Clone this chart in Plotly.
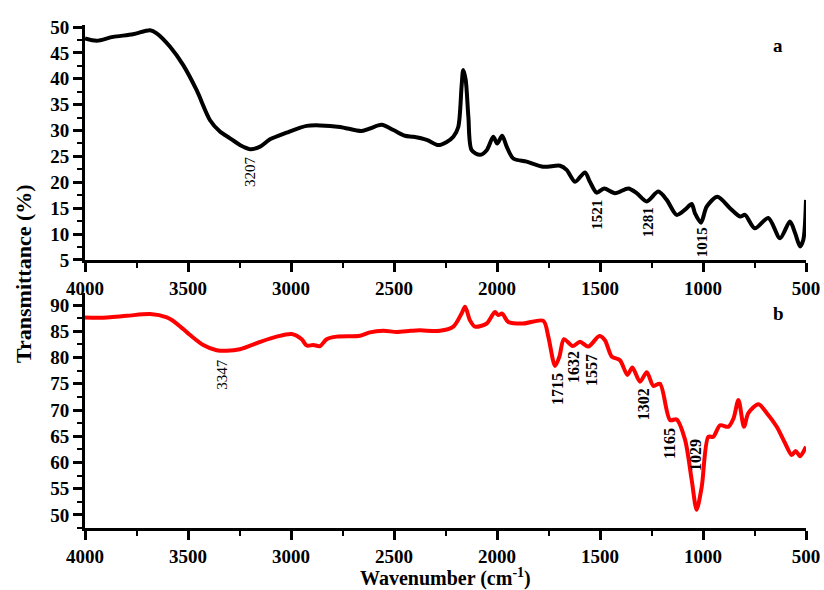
import plotly.graph_objects as go
from plotly.subplots import make_subplots

# ---- data ----
wn_a = [4000, 3943, 3864, 3767, 3684, 3652, 3587, 3524, 3458, 3393, 3345, 3296, 3248, 3199, 3150,
        3102, 3021, 2924, 2859, 2762, 2657, 2617, 2560, 2503, 2447, 2406, 2341, 2285, 2244, 2212,
        2188, 2172, 2164, 2152, 2139, 2123, 2083, 2050, 2018, 1999, 1975, 1953, 1921, 1856, 1775,
        1694, 1662, 1621, 1573, 1549, 1516, 1480, 1427, 1362, 1322, 1273, 1217, 1176, 1128, 1087,
        1055, 1039, 1010, 982, 930, 869, 820, 796, 748, 683, 626, 578, 553, 529, 513, 500]
t_a = [47.8, 47.35, 48.1, 48.6, 49.4, 48.8, 46.2, 42.7, 37.8, 32.0, 29.8, 28.5, 27.2, 26.4, 26.9,
       28.3, 29.6, 30.9, 31.0, 30.7, 29.9, 30.4, 31.1, 30.1, 29.0, 28.8, 28.2, 27.2, 27.8, 28.8,
       30.7, 38.5, 41.7, 39.8, 32.7, 26.2, 25.3, 26.2, 28.8, 27.5, 29.0, 26.9, 24.6, 24.0, 23.0,
       23.2, 22.4, 20.1, 21.9, 20.1, 18.0, 18.8, 17.9, 18.8, 17.9, 16.3, 18.2, 16.6, 13.7, 14.7,
       15.8, 14.0, 12.2, 15.3, 17.2, 15.0, 13.4, 13.7, 11.1, 13.1, 9.2, 12.4, 10.2, 7.6, 8.9, 16.6]

wn_b = [4000, 3927, 3798, 3684, 3603, 3555, 3490, 3426, 3361, 3312, 3248, 3150, 3070, 2997, 2948,
        2924, 2892, 2859, 2827, 2778, 2665, 2617, 2552, 2487, 2420, 2374, 2277, 2212, 2172, 2155,
        2131, 2107, 2050, 2010, 1994, 1975, 1945, 1873, 1775, 1751, 1718, 1697, 1675, 1633, 1597,
        1557, 1503, 1476, 1443, 1403, 1367, 1343, 1306, 1273, 1241, 1209, 1160, 1128, 1087, 1055,
        1031, 1006, 974, 950, 917, 877, 852, 828, 801, 780, 731, 690, 642, 602, 569, 550, 529, 500]
t_b = [87.65, 87.6, 87.96, 88.3, 87.65, 86.5, 84.3, 82.4, 81.4, 81.3, 81.6, 83.0, 84.0, 84.5, 83.5,
       82.3, 82.4, 82.2, 83.5, 84.0, 84.15, 84.8, 85.1, 84.9, 85.1, 85.2, 85.1, 85.9, 88.4, 89.7,
       87.1, 85.9, 86.5, 88.7, 88.1, 88.4, 86.8, 86.5, 87.0, 84.0, 78.4, 80.2, 83.5, 82.2, 83.0,
       82.1, 84.1, 83.3, 80.2, 79.5, 76.7, 78.1, 75.4, 77.2, 74.6, 75.0, 68.1, 68.2, 64.3, 56.7,
       51.0, 55.4, 64.9, 64.9, 67.1, 66.8, 68.4, 71.9, 66.8, 69.4, 71.1, 69.4, 66.8, 63.7, 61.4,
       62.2, 61.2, 63.0]

labels_a = ["3207", "1521", "1281", "1015"]
lab_a_x = [3199, 1515, 1267, 1005]
lab_a_y = [22.0, 13.7, 12.3, 8.4]
labels_b = ["3347", "1715", "1632", "1557", "1302", "1165", "1029"]
lab_b_x = [3335, 1709, 1631, 1544, 1291, 1165, 1039]
lab_b_y = [76.9, 74.0, 78.2, 77.6, 71.1, 63.5, 61.4]

FONT = "Liberation Serif"

fig = make_subplots(rows=2, cols=1, vertical_spacing=0.066)
fig.add_trace(go.Scatter(x=wn_a, y=t_a, mode="lines", line=dict(color="black", width=4, shape="spline", smoothing=0.8)), row=1, col=1)
fig.add_trace(go.Scatter(x=wn_b, y=t_b, mode="lines", line=dict(color="red", width=4, shape="spline", smoothing=0.8)), row=2, col=1)

xcommon = dict(range=[4000, 500], showline=True, linewidth=3, linecolor="black", mirror=False,
               ticks="outside", ticklen=9, tickwidth=2.5, tickcolor="black", dtick=500, tick0=500,
               minor=dict(ticks="outside", ticklen=5, tickwidth=2, tickcolor="black", dtick=250),
               showgrid=False, zeroline=False, automargin=False,
               tickfont=dict(family=FONT, size=19, color="black", weight="bold"))
ycommon = dict(showline=True, linewidth=3, linecolor="black", ticks="outside", ticklen=9, tickwidth=2.5,
               tickcolor="black", dtick=5, showgrid=False, zeroline=False, automargin=False,
               minor=dict(ticks="outside", ticklen=5, tickwidth=2, tickcolor="black", dtick=2.5),
               tickfont=dict(family=FONT, size=19, color="black", weight="bold"))

fig.update_xaxes(**xcommon, row=1, col=1)
fig.update_xaxes(**xcommon, row=2, col=1)
fig.update_yaxes(**ycommon, range=[5, 50.4], tick0=5, row=1, col=1)
fig.update_yaxes(**ycommon, range=[47.5, 92.3], tick0=50, row=2, col=1)

anns = []
for t, x, y in zip(labels_a, lab_a_x, lab_a_y):
    anns.append(dict(x=x, y=y, xref="x", yref="y", text=t, showarrow=False, textangle=-90,
                     font=dict(family=FONT, size=15, color="black", weight="normal" if t == "3207" else "bold")))
for t, x, y in zip(labels_b, lab_b_x, lab_b_y):
    anns.append(dict(x=x, y=y, xref="x2", yref="y2", text=t, showarrow=False, textangle=-90,
                     font=dict(family=FONT, size=15 if t == "3347" else 16, color="black",
                               weight="normal" if t == "3347" else "bold")))

W, H = 824, 590
ml, mr, mt, mb = 85, 18, 25, 62
pw, ph = W - ml - mr, H - mt - mb

# (pixel x, pixel y, text, size, angle)
px_anns = [(778, 46, "a", 19, 0), (778, 313, "b", 19, 0),
           (23, 274, "Transmittance (%)", 22, -90),
           (445, 577, "Wavenumber (cm<sup>-1</sup>)", 20, 0)]
for px, py, t, s, ang in px_anns:
    anns.append(dict(x=(px - ml) / pw, y=(H - mb - py) / ph, xref="paper", yref="paper",
                     text=t, showarrow=False, textangle=ang, xanchor="center", yanchor="middle",
                     font=dict(family=FONT, size=s, color="black", weight="bold")))

fig.update_layout(width=W, height=H, margin=dict(l=ml, r=mr, t=mt, b=mb, autoexpand=False),
                  paper_bgcolor="white", plot_bgcolor="white", showlegend=False,
                  annotations=anns)
fig.update_layout(yaxis=dict(domain=[0.533, 1.0]), yaxis2=dict(domain=[0.0, 0.467]))

fig.write_html("out.html", config={"displayModeBar": False},
               post_script="document.body.style.margin='0';document.body.style.padding='0';")
